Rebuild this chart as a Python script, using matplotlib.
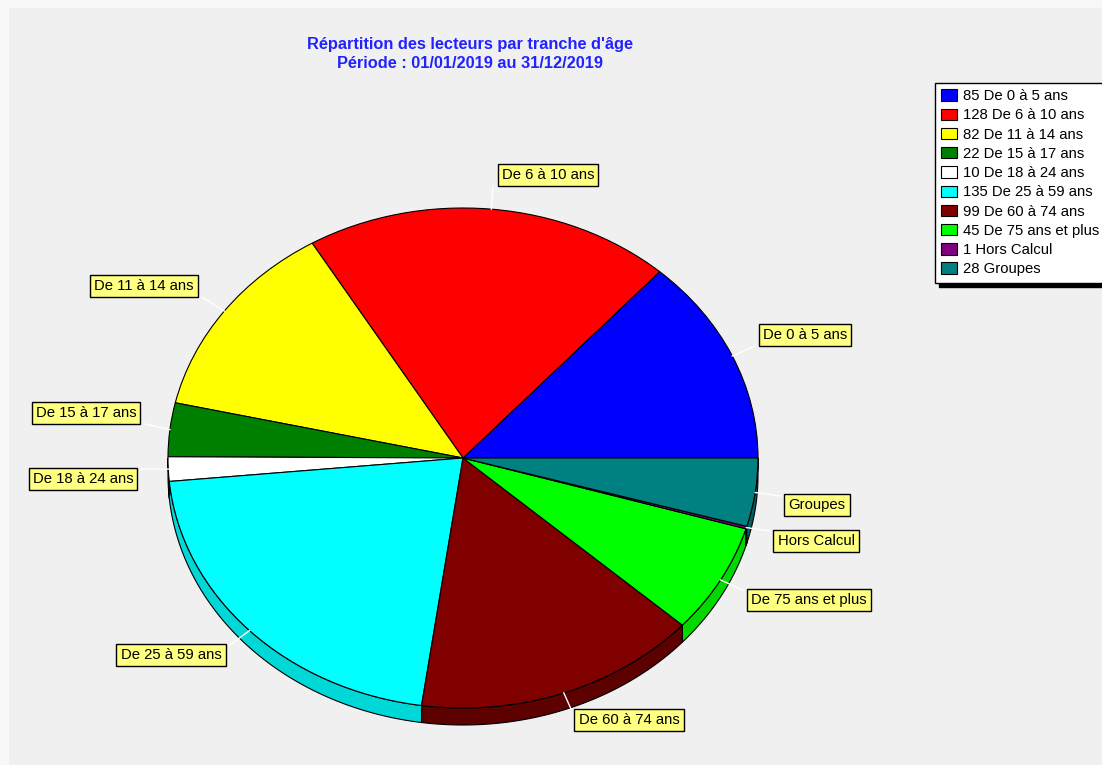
import numpy as np
import matplotlib.pyplot as plt

plt.rcParams['font.family'] = ['Liberation Sans', 'DejaVu Sans']

# data
tranches = ['De 0 à 5 ans', 'De 6 à 10 ans', 'De 11 à 14 ans', 'De 15 à 17 ans',
            'De 18 à 24 ans', 'De 25 à 59 ans', 'De 60 à 74 ans',
            'De 75 ans et plus', 'Hors Calcul', 'Groupes']
lecteurs = [85, 128, 82, 22, 10, 135, 99, 45, 1, 28]

couleurs = ['#0000ff', '#ff0000', '#ffff00', '#008000', '#ffffff',
            '#00ffff', '#800000', '#00ff00', '#800080', '#008080']
cotes = ['#0000d0', '#d00000', '#d8d800', '#006400', '#d8d8d8',
         '#00d8d8', '#5c0000', '#00d800', '#600060', '#006060']

# layout (pixels of the 1102x765 picture)
W, H = 1102, 765
CX, CY, RX, RY = 463, 458, 295, 250
DEPTH = 17
FS = 10.75
# label box centre and leader end
label_pos = [(805, 335, 755, 346), (548, 175, 493, 186), (144, 286, 202, 297),
             (86, 413, 145, 424), (83, 479, 141, 469), (171, 655, 230, 645),
             (629, 720, 571, 709), (809, 600, 743, 590), (816, 541, 770, 531),
             (817, 505, 781, 496)]


def px(x, y):
    return (x - CX) / RX, (CY - y) / RY


fig = plt.figure(figsize=(W / 100, H / 100), dpi=100, facecolor='#f8f8f8')
bg = fig.add_axes([9 / W, 0, 1, 1 - 8 / H], facecolor='#f0f0f0')
bg.set_xticks([])
bg.set_yticks([])
for s in bg.spines.values():
    s.set_visible(False)

ax = fig.add_axes([0, 0, 1, 1])
ax.patch.set_visible(False)

wedges, _ = ax.pie(lecteurs, colors=couleurs, startangle=0, counterclock=True,
                   wedgeprops=dict(edgecolor='black', linewidth=0.8, zorder=3))

ax.set_aspect('auto')
ax.set_xlim(px(0, 0)[0], px(W, 0)[0])
ax.set_ylim(px(0, H)[1], px(0, 0)[1])
ax.axis('off')

# side of the 3d pie
d = DEPTH / RY
total = sum(lecteurs)
angles = np.concatenate([[0], np.cumsum(lecteurs) / total * 360])
for i in range(len(lecteurs)):
    t1 = max(angles[i], 180)
    t2 = min(angles[i + 1], 360)
    if t2 <= t1:
        continue
    t = np.radians(np.linspace(t1, t2, 80))
    xs = np.concatenate([np.cos(t), np.cos(t[::-1])])
    ys = np.concatenate([np.sin(t), np.sin(t[::-1]) - d])
    ax.fill(xs, ys, facecolor=cotes[i], edgecolor='black', linewidth=0.8, zorder=2)

# labels with leader lines
for i, nom in enumerate(tranches):
    mid = np.radians((angles[i] + angles[i + 1]) / 2)
    bx, by, ex, ey = label_pos[i]
    x1, y1 = px(ex, ey)
    ax.plot([np.cos(mid), x1], [np.sin(mid), y1], color='white', lw=1, zorder=4)
    tx, ty = px(bx, by)
    ax.text(tx, ty, nom, ha='center', va='center', fontsize=FS, zorder=5,
            bbox=dict(boxstyle='square,pad=0.28', fc='#ffff80', ec='black', lw=1))

# title
fig.text(470 / W, 1 - 44 / H, "Répartition des lecteurs par tranche d'âge",
         ha='center', va='center', color='#2222ff', fontsize=11.75, fontweight='bold')
fig.text(470 / W, 1 - 63 / H, 'Période : 01/01/2019 au 31/12/2019',
         ha='center', va='center', color='#2222ff', fontsize=11.75, fontweight='bold')

# legend
leg = ax.legend(wedges, [f'{v} {n}' for v, n in zip(lecteurs, tranches)],
                loc='upper left', bbox_to_anchor=(935 / W, 1 - 83 / H),
                bbox_transform=fig.transFigure, borderaxespad=0, fontsize=FS,
                fancybox=False, framealpha=1, edgecolor='black',
                shadow={'color': 'black', 'alpha': 1, 'ox': 3, 'oy': -3},
                handlelength=1.07, handleheight=0.8, handletextpad=0.4,
                labelspacing=0.35, borderpad=0.42)
leg.get_frame().set_linewidth(1)

fig.savefig('out.png', dpi=100, facecolor=fig.get_facecolor())
